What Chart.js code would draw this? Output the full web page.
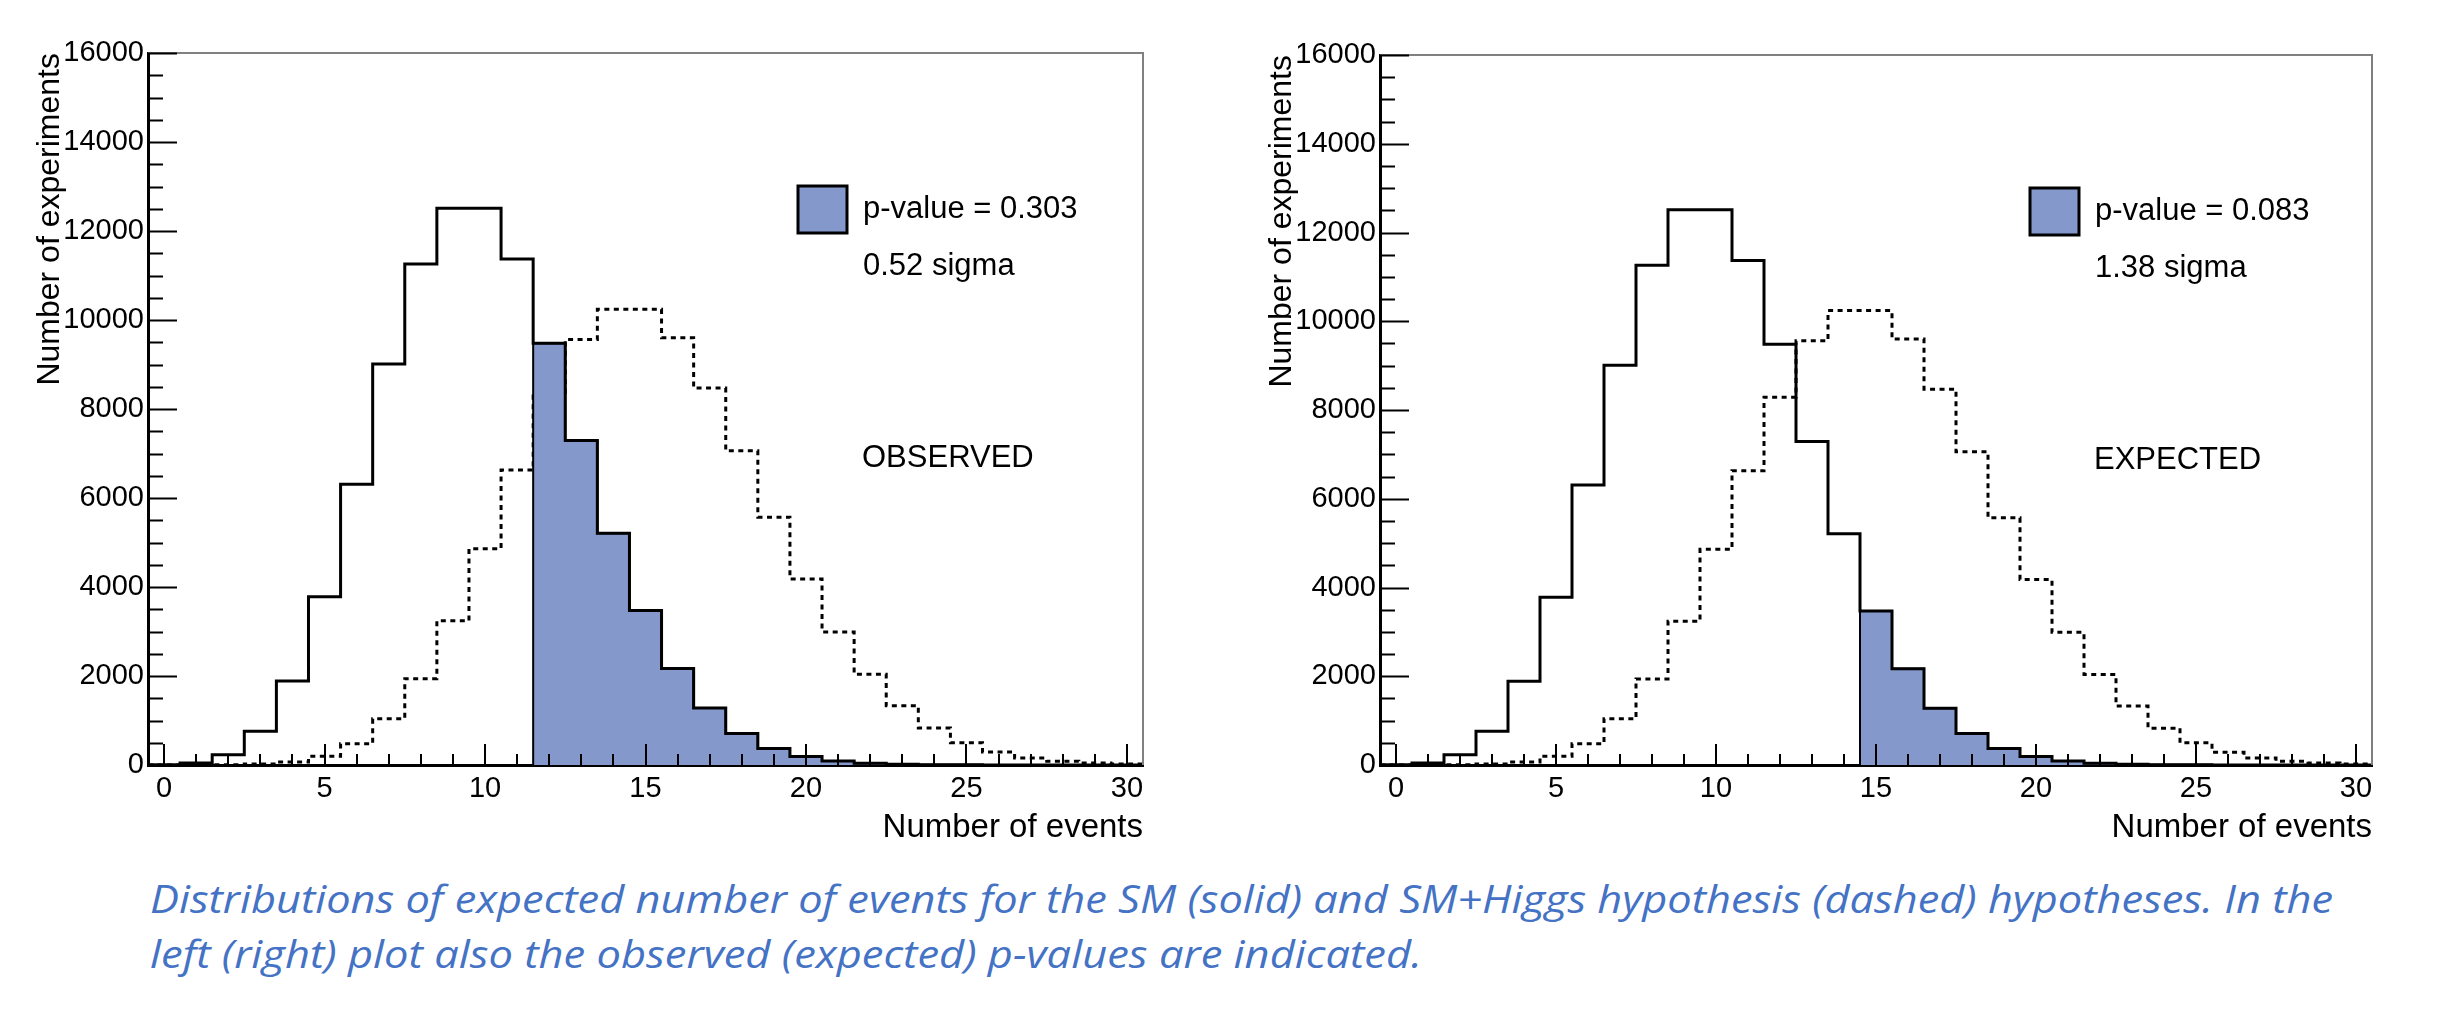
<!DOCTYPE html>
<html lang="en">
<head>
    <meta charset="UTF-8">
    <title>SM vs SM+Higgs pseudo-experiments</title>
    <script src="https://cdn.jsdelivr.net/npm/chart.js@4"></script>
    <style>
        body {
            margin: 0;
            background: #fff;
            width: 2454px;
            height: 1010px;
            position: relative;
            overflow: hidden;
        }
        canvas {
            position: absolute;
            top: 0;
        }
        #obsChart { left: 0; }
        #expChart { left: 1232px; }
        .caption {
            position: absolute;
            left: 150px;
            width: max-content;
            font-family: "Open Sans", "Noto Sans", sans-serif;
            font-style: italic;
            font-size: 39px;
            line-height: 55px;
            color: #4472C4;
            white-space: nowrap;
            transform-origin: 0 0;
        }
    </style>
</head>
<body>
    <canvas id="obsChart" width="1227" height="860"></canvas>
    <canvas id="expChart" width="1222" height="860"></canvas>
    <div class="caption" id="cap1" style="top: 870px;">Distributions of expected number of events for the SM (solid) and SM+Higgs hypothesis (dashed) hypotheses. In the</div>
    <div class="caption" id="cap2" style="top: 925px;">left (right) plot also the observed (expected) p-values are indicated.</div>

    <script>
// number of events per pseudo-experiment (bin centres, bin width 1)
const binCenters = [0, 1, 2, 3, 4, 5, 6, 7, 8, 9, 10, 11, 12, 13, 14, 15,
                    16, 17, 18, 19, 20, 21, 22, 23, 24, 25, 26, 27, 28, 29, 30];
// SM only (solid)
const smCounts = [5, 45, 230, 760, 1890, 3780, 6310, 9010, 11260, 12510, 12510, 11370, 9480, 7290, 5210, 3470,
                  2170, 1280, 710, 370, 190, 90, 40, 17, 7, 3, 1, 0, 0, 0, 0];
// SM + Higgs (dashed)
const higgsCounts = [0, 0, 3, 20, 65, 195, 480, 1040, 1940, 3240, 4860, 6630, 8290, 9560, 10240, 10240,
                     9600, 8470, 7060, 5570, 4180, 2990, 2040, 1330, 830, 500, 290, 160, 85, 45, 22];
// first bin counted in the p-value
const obsCut = 12;
const expCut = 15;

const xTickValues = [0, 5, 10, 15, 20, 25, 30];
const yTickValues = [0, 2000, 4000, 6000, 8000, 10000, 12000, 14000, 16000];
const xMinorStep = 1;
const yMinorStep = 500;

const obsTexts = ['p-value = 0.303', '0.52 sigma', 'OBSERVED'];
const expTexts = ['p-value = 0.083', '1.38 sigma', 'EXPECTED'];

const fillBlue = 'rgb(133, 152, 204)';
const labelFont = '"Liberation Sans", Arial, sans-serif';

// histogram outline as step vertices
function stepPoints(centers, counts, fromIndex, startAtZero) {
    const pts = [];
    for (let i = fromIndex; i < centers.length; i++) {
        const lo = centers[i] - 0.5;
        const hi = centers[i] + 0.5;
        if (i === fromIndex && startAtZero) pts.push({ x: lo, y: 0 });
        pts.push({ x: lo, y: counts[i] });
        pts.push({ x: hi, y: counts[i] });
    }
    return pts;
}

// ROOT style: inward ticks, grey top/right frame, legend box and labels
const rootFrame = {
    id: 'rootFrame',
    afterDatasetsDraw(chart, args, opts) {
        const { ctx, chartArea: a, scales: { x, y } } = chart;
        ctx.save();

        ctx.strokeStyle = '#808080';
        ctx.lineWidth = 2;
        ctx.beginPath();
        ctx.moveTo(a.left, a.top);
        ctx.lineTo(a.right, a.top);
        ctx.lineTo(a.right, a.bottom);
        ctx.stroke();

        ctx.strokeStyle = '#000';
        ctx.lineWidth = 2;
        ctx.beginPath();
        for (let v = 0; v <= y.max; v += yMinorStep) {
            const py = Math.round(y.getPixelForValue(v)) + 0.5;
            const len = yTickValues.includes(v) ? 29 : 15;
            ctx.moveTo(a.left, py);
            ctx.lineTo(a.left + len, py);
        }
        for (let v = 0; v <= x.max; v += xMinorStep) {
            const px = Math.round(x.getPixelForValue(v));
            const len = xTickValues.includes(v) ? 21 : 11;
            ctx.moveTo(px, a.bottom);
            ctx.lineTo(px, a.bottom - len);
        }
        ctx.stroke();

        // legend entry
        ctx.fillStyle = fillBlue;
        ctx.fillRect(a.left + 650, a.top + 133, 49, 47);
        ctx.lineWidth = 3;
        ctx.strokeRect(a.left + 650, a.top + 133, 49, 47);

        ctx.fillStyle = '#000';
        ctx.font = '31px ' + labelFont;
        ctx.textBaseline = 'alphabetic';
        ctx.textAlign = 'left';
        ctx.fillText(opts.texts[0], a.left + 715, a.top + 165);
        ctx.fillText(opts.texts[1], a.left + 715, a.top + 222);
        ctx.fillText(opts.texts[2], a.left + 714, a.top + 414);
        ctx.restore();
    }
};

function makeChart(canvasId, cut, texts, padTop, padRight) {
    return new Chart(document.getElementById(canvasId), {
        type: 'scatter',
        data: {
            datasets: [
                {
                    label: 'SM',
                    data: stepPoints(binCenters, smCounts, 0, false),
                    showLine: true,
                    borderColor: '#000',
                    borderWidth: 3,
                    borderJoinStyle: 'miter',
                    pointRadius: 0,
                    fill: false,
                    order: 0
                },
                {
                    label: 'p-value',
                    data: stepPoints(binCenters, smCounts, cut, true),
                    showLine: true,
                    borderColor: '#000',
                    borderWidth: 2,
                    borderJoinStyle: 'miter',
                    backgroundColor: fillBlue,
                    pointRadius: 0,
                    fill: 'origin',
                    order: 1
                },
                {
                    label: 'SM+Higgs',
                    data: stepPoints(binCenters, higgsCounts, 0, false),
                    showLine: true,
                    borderColor: '#000',
                    borderWidth: 3,
                    borderDash: [5, 4.5],
                    borderJoinStyle: 'miter',
                    pointRadius: 0,
                    fill: false,
                    order: 2
                }
            ]
        },
        options: {
            responsive: false,
            animation: false,
            events: [],
            layout: { padding: { left: 0, top: padTop, right: padRight, bottom: 0 } },
            plugins: {
                legend: { display: false },
                tooltip: { enabled: false },
                rootFrame: { texts: texts }
            },
            scales: {
                x: {
                    type: 'linear',
                    min: -0.5,
                    max: 30.5,
                    afterBuildTicks: (scale) => { scale.ticks = xTickValues.map(v => ({ value: v })); },
                    afterFit: (scale) => { scale.height = 95; },
                    grid: { display: false, drawTicks: false },
                    border: { display: true, color: '#000', width: 3 },
                    ticks: {
                        color: '#000', padding: 7, maxRotation: 0,
                        font: { family: labelFont, size: 29 },
                        callback: (v) => String(v)
                    },
                    title: {
                        display: true,
                        text: 'Number of events',
                        align: 'end',
                        color: '#000',
                        padding: { top: 0, bottom: 12 },
                        font: { family: labelFont, size: 33 }
                    }
                },
                y: {
                    type: 'linear',
                    min: 0,
                    max: 16000,
                    afterBuildTicks: (scale) => { scale.ticks = yTickValues.map(v => ({ value: v })); },
                    afterFit: (scale) => { scale.width = 148; },
                    grid: { display: false, drawTicks: false },
                    border: { display: true, color: '#000', width: 3 },
                    ticks: {
                        color: '#000', padding: 4,
                        font: { family: labelFont, size: 29 },
                        callback: (v) => String(v)
                    },
                    title: {
                        display: true,
                        text: 'Number of experiments',
                        align: 'end',
                        color: '#000',
                        padding: { top: 31, bottom: 0 },
                        font: { family: labelFont, size: 32 }
                    }
                }
            }
        },
        plugins: [rootFrame]
    });
}

makeChart('obsChart', obsCut, obsTexts, 53, 84);
makeChart('expChart', expCut, expTexts, 55, 82);

// stretch/squeeze the caption lines to the width of the original text
function fitCaption(id, targetWidth) {
    const el = document.getElementById(id);
    const w = el.getBoundingClientRect().width;
    el.style.transform = 'scaleX(' + (targetWidth / w) + ')';
}
fitCaption('cap1', 2183);
fitCaption('cap2', 1272);
    </script>
</body>
</html>
